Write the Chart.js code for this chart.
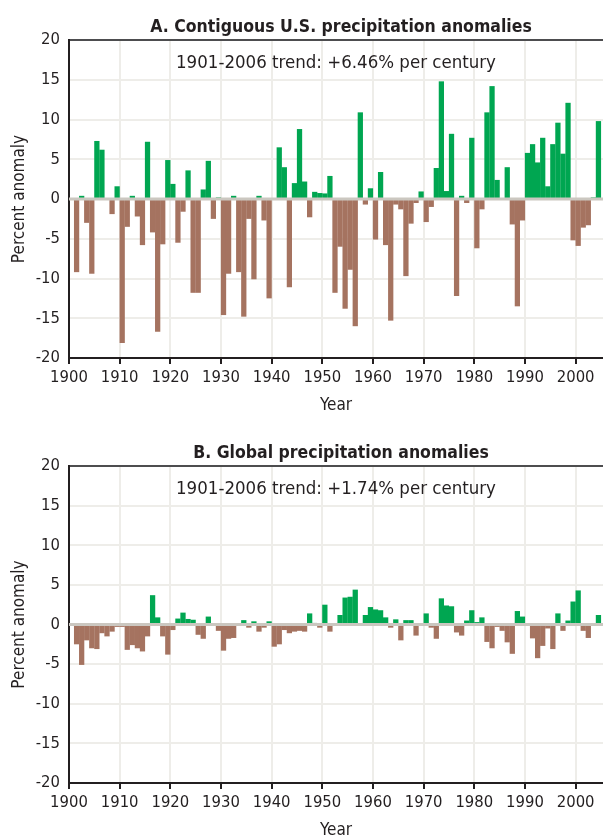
<!DOCTYPE html>
<html>
<head>
<meta charset="utf-8">
<script src="https://cdn.jsdelivr.net/npm/chart.js@4/dist/chart.umd.min.js"></script>
<style>
  html, body { margin: 0; padding: 0; background: #fff; overflow: hidden; }
  #wrap { position: relative; width: 603px; height: 839px; }
  canvas { position: absolute; left: 0; }
  #chartA { top: 0; }
  #chartB { top: 420px; }
</style>
</head>
<body>
<div id="wrap">
  <canvas id="chartA" width="603" height="420"></canvas>
  <canvas id="chartB" width="603" height="425"></canvas>
</div>
<script>
// years shown, 1901-2004 (the rest is cut off at the right edge)
const years = [];
for (let y = 1901; y <= 2004; y++) years.push(y);

// A. Contiguous U.S. precipitation anomalies (%)
const usAnomaly = [
    -9.2, 0.4, -3.0, -9.4, 7.3, 6.2, 0, -1.9, 1.6, -18.1,
    -3.5, 0.4, -2.2, -5.8, 7.2, -4.2, -16.7, -5.7, 4.9, 1.9,
    -5.5, -1.6, 3.6, -11.8, -11.8, 1.2, 4.8, -2.5, 0.2, -14.6,
    -9.4, 0.4, -9.2, -14.8, -2.5, -10.1, 0.4, -2.7, -12.5, 0.1,
    6.5, 4.0, -11.1, 2.0, 8.8, 2.2, -2.3, 0.9, 0.75, 0.7,
    2.9, -11.8, -6.0, -13.8, -8.9, -16.0, 10.9, -0.7, 1.35, -5.1,
    3.4, -5.8, -15.3, -0.7, -1.3, -9.7, -3.1, -0.5, 0.95, -2.9,
    -1.0, 3.9, 14.8, 1.0, 8.2, -12.2, 0.4, -0.5, 7.7, -6.2,
    -1.3, 10.9, 14.2, 2.4, 0, 4.0, -3.2, -13.5, -2.7, 5.8,
    6.9, 4.6, 7.7, 1.6, 6.9, 9.6, 5.7, 12.1, -5.2, -5.9,
    -3.6, -3.3, 0.2, 9.8
];

// B. Global precipitation anomalies (%)
const globalAnomaly = [
    -2.5, -5.1, -2.0, -3.0, -3.1, -1.1, -1.5, -0.9, -0.3, -0.3,
    -3.2, -2.6, -3.0, -3.4, -1.5, 3.7, 0.9, -1.5, -3.8, -0.7,
    0.75, 1.5, 0.7, 0.6, -1.3, -1.8, 1.0, 0, -0.8, -3.3,
    -1.8, -1.7, 0, 0.55, -0.4, 0.4, -0.9, -0.4, 0.4, -2.8,
    -2.5, -0.7, -1.1, -0.9, -0.8, -0.9, 1.4, 0.2, -0.4, 2.5,
    -0.9, 0.1, 1.2, 3.4, 3.5, 4.4, 0, 1.2, 2.2, 1.9,
    1.8, 0.9, -0.4, 0.65, -2.0, 0.55, 0.55, -1.4, 0, 1.4,
    -0.4, -1.8, 3.3, 2.4, 2.3, -1.0, -1.4, 0.5, 1.8, 0.3,
    0.9, -2.2, -3.0, -0.3, -0.8, -2.25, -3.7, 1.7, 1.0, 0,
    -1.75, -4.25, -2.7, -0.5, -3.1, 1.4, -0.8, 0.5, 2.9, 4.3,
    -0.8, -1.7, 0, 1.2
];

const panelTitles = ["A. Contiguous U.S. precipitation anomalies", "B. Global precipitation anomalies"];
const trendLabels = ["1901-2006 trend: +6.46% per century", "1901-2006 trend: +1.74% per century"];

const GREEN = "#00a651";
const BROWN = "#a57360";
const INK = "#231f20";
const FONT = "'DejaVu Sans Condensed', 'DejaVu Sans', sans-serif";

// zero line, panel title and trend note
const panelText = {
    id: "panelText",
    afterDatasetsDraw(chart, args, opts) {
        const { ctx, chartArea, scales } = chart;
        const y0 = scales.y.getPixelForValue(0);
        ctx.save();
        ctx.strokeStyle = "#cbc7c0";
        ctx.lineWidth = 3;
        ctx.beginPath();
        ctx.moveTo(chartArea.left, y0);
        ctx.lineTo(chartArea.right, y0);
        ctx.stroke();

        const cx = (chartArea.left + chartArea.right) / 2;
        ctx.fillStyle = INK;
        ctx.textAlign = "center";
        ctx.textBaseline = "alphabetic";
        ctx.font = "bold 17.5px " + FONT;
        ctx.fillText(opts.title, cx + 5, chartArea.top - 8);
        ctx.font = "18.5px " + FONT;
        ctx.fillText(opts.trend, cx, chartArea.top + 28);
        ctx.restore();
    }
};

function makePanel(canvasId, values, idx, topPad) {
    const ctx = document.getElementById(canvasId).getContext("2d");
    return new Chart(ctx, {
        type: "bar",
        data: {
            datasets: [{
                // each bar covers its whole year, [year, year + 1]
                data: years.map((yr, i) => ({ x: yr + 0.5, y: values[i] })),
                backgroundColor: values.map(v => v >= 0 ? GREEN : BROWN),
                borderWidth: 0,
                barPercentage: 1.04,
                categoryPercentage: 1
            }]
        },
        options: {
            responsive: false,
            animation: false,
            layout: { padding: { top: topPad, right: 0, left: 0, bottom: 0 } },
            plugins: {
                legend: { display: false },
                tooltip: { enabled: false },
                panelText: { title: panelTitles[idx], trend: trendLabels[idx] }
            },
            scales: {
                x: {
                    type: "linear",
                    min: 1900,
                    max: 2005.4,
                    offset: false,
                    afterFit: s => { s.height = 62; },
                    ticks: {
                        stepSize: 10,
                        includeBounds: false,
                        autoSkip: false,
                        maxRotation: 0,
                        padding: 4,
                        color: INK,
                        font: { family: FONT, size: 16.5 },
                        callback: v => String(v)
                    },
                    grid: {
                        offset: false,
                        color: "#eeede9",
                        lineWidth: 2,
                        tickLength: 6,
                        tickColor: INK,
                        tickWidth: 2
                    },
                    border: { color: INK, width: 2 },
                    title: {
                        display: true,
                        text: "Year",
                        color: INK,
                        padding: 4,
                        font: { family: FONT, size: 17 }
                    }
                },
                y: {
                    min: -20,
                    max: 20,
                    afterFit: s => { s.width = 69; },
                    ticks: {
                        stepSize: 5,
                        padding: 9,
                        color: INK,
                        font: { family: FONT, size: 16.5 }
                    },
                    grid: {
                        drawTicks: false,
                        color: c => c.tick.value === 20 ? "#4d4d4f" : (c.tick.value === 0 ? "rgba(0,0,0,0)" : "#eeede9"),
                        lineWidth: 2
                    },
                    border: { color: INK, width: 2 },
                    title: {
                        display: true,
                        text: "Percent anomaly",
                        color: INK,
                        padding: 9,
                        font: { family: FONT, size: 17 }
                    }
                }
            }
        },
        plugins: [panelText]
    });
}

makePanel("chartA", usAnomaly, 0, 40);
makePanel("chartB", globalAnomaly, 1, 46);
</script>
</body>
</html>
